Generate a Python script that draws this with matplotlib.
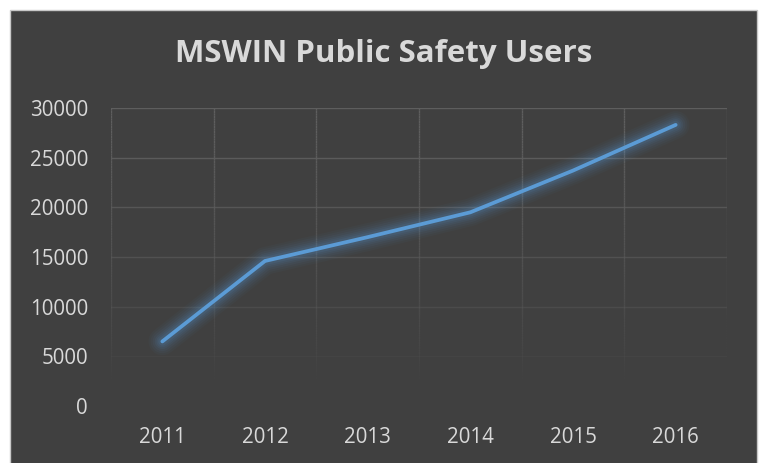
import numpy as np
import matplotlib
matplotlib.use("Agg")
import matplotlib.pyplot as plt
from matplotlib.collections import LineCollection
from matplotlib.patches import Rectangle

years = ["2011", "2012", "2013", "2014", "2015", "2016"]
users = [6500, 14600, 17000, 19500, 23700, 28300]
yticks = [0, 5000, 10000, 15000, 20000, 25000, 30000]
title = "MSWIN Public Safety Users"

BG = "#404040"
GRID = (0.37, 0.37, 0.37)
TXT = "#d9d9d9"
BLUE = "#5b9bd5"
FONT = "Open Sans"

W, H = 759, 463
fig = plt.figure(figsize=(W / 100, H / 100), dpi=100, facecolor="white")
fig.patches.append(Rectangle((10 / W, -0.01), (757 - 10) / W, (H - 10) / H + 0.01,
                             transform=fig.transFigure, facecolor=BG,
                             edgecolor="#c8c8c8", linewidth=1.0, zorder=-5))

ax = fig.add_axes([111 / W, 57 / H, (727 - 111) / W, (406 - 108) / H])
ax.set_zorder(2)
ax.set_facecolor("none")
x = np.arange(len(years))
ax.set_xlim(-0.5, len(years) - 0.5)
ax.set_ylim(0, 30000)


def alpha_of(y):
    return float(np.clip((y - 2500) / 25000, 0, 1)) ** 0.8


# horizontal gridlines
for yv in yticks:
    a = alpha_of(yv)
    if a > 0:
        ax.plot([-0.5, len(years) - 0.5], [yv, yv], color=GRID, alpha=a, lw=1.0, zorder=1)

# vertical gridlines with fade
ys = np.linspace(0, 30000, 121)
for xv in np.arange(-0.5, len(years), 1.0):
    segs = [[(xv, ys[i]), (xv, ys[i + 1])] for i in range(len(ys) - 1)]
    cols = [(*GRID, alpha_of((ys[i] + ys[i + 1]) / 2)) for i in range(len(ys) - 1)]
    ax.add_collection(LineCollection(segs, colors=cols, linewidths=1.0, zorder=1))

# glow
for lw, a in [(20, 0.035), (17, 0.045), (14, 0.055), (11, 0.07), (8.5, 0.08), (6, 0.10)]:
    ax.plot(x, users, color=BLUE, lw=lw, alpha=a, solid_capstyle="round",
            solid_joinstyle="round", zorder=2)
ax.plot(x, users, color=BLUE, lw=2.7, solid_capstyle="round",
        solid_joinstyle="round", zorder=3)

for s in ax.spines.values():
    s.set_visible(False)
ax.set_xticks(x)
ax.set_xticklabels(years)
ax.set_yticks(yticks)
ax.set_yticklabels([str(v) for v in yticks])
ax.tick_params(length=0, colors=TXT, labelsize=14.8, pad=15)
ax.tick_params(axis="y", pad=16.5)
for lab in ax.get_xticklabels() + ax.get_yticklabels():
    lab.set_fontfamily(FONT)
    lab.set_color(TXT)
ax.grid(False)

fig.text(384 / W, 1 - 54 / H, title, ha="center", va="center", fontsize=22.5,
         fontweight="bold", color=TXT, family=FONT)

fig.savefig("out.png", dpi=100, facecolor="white")
